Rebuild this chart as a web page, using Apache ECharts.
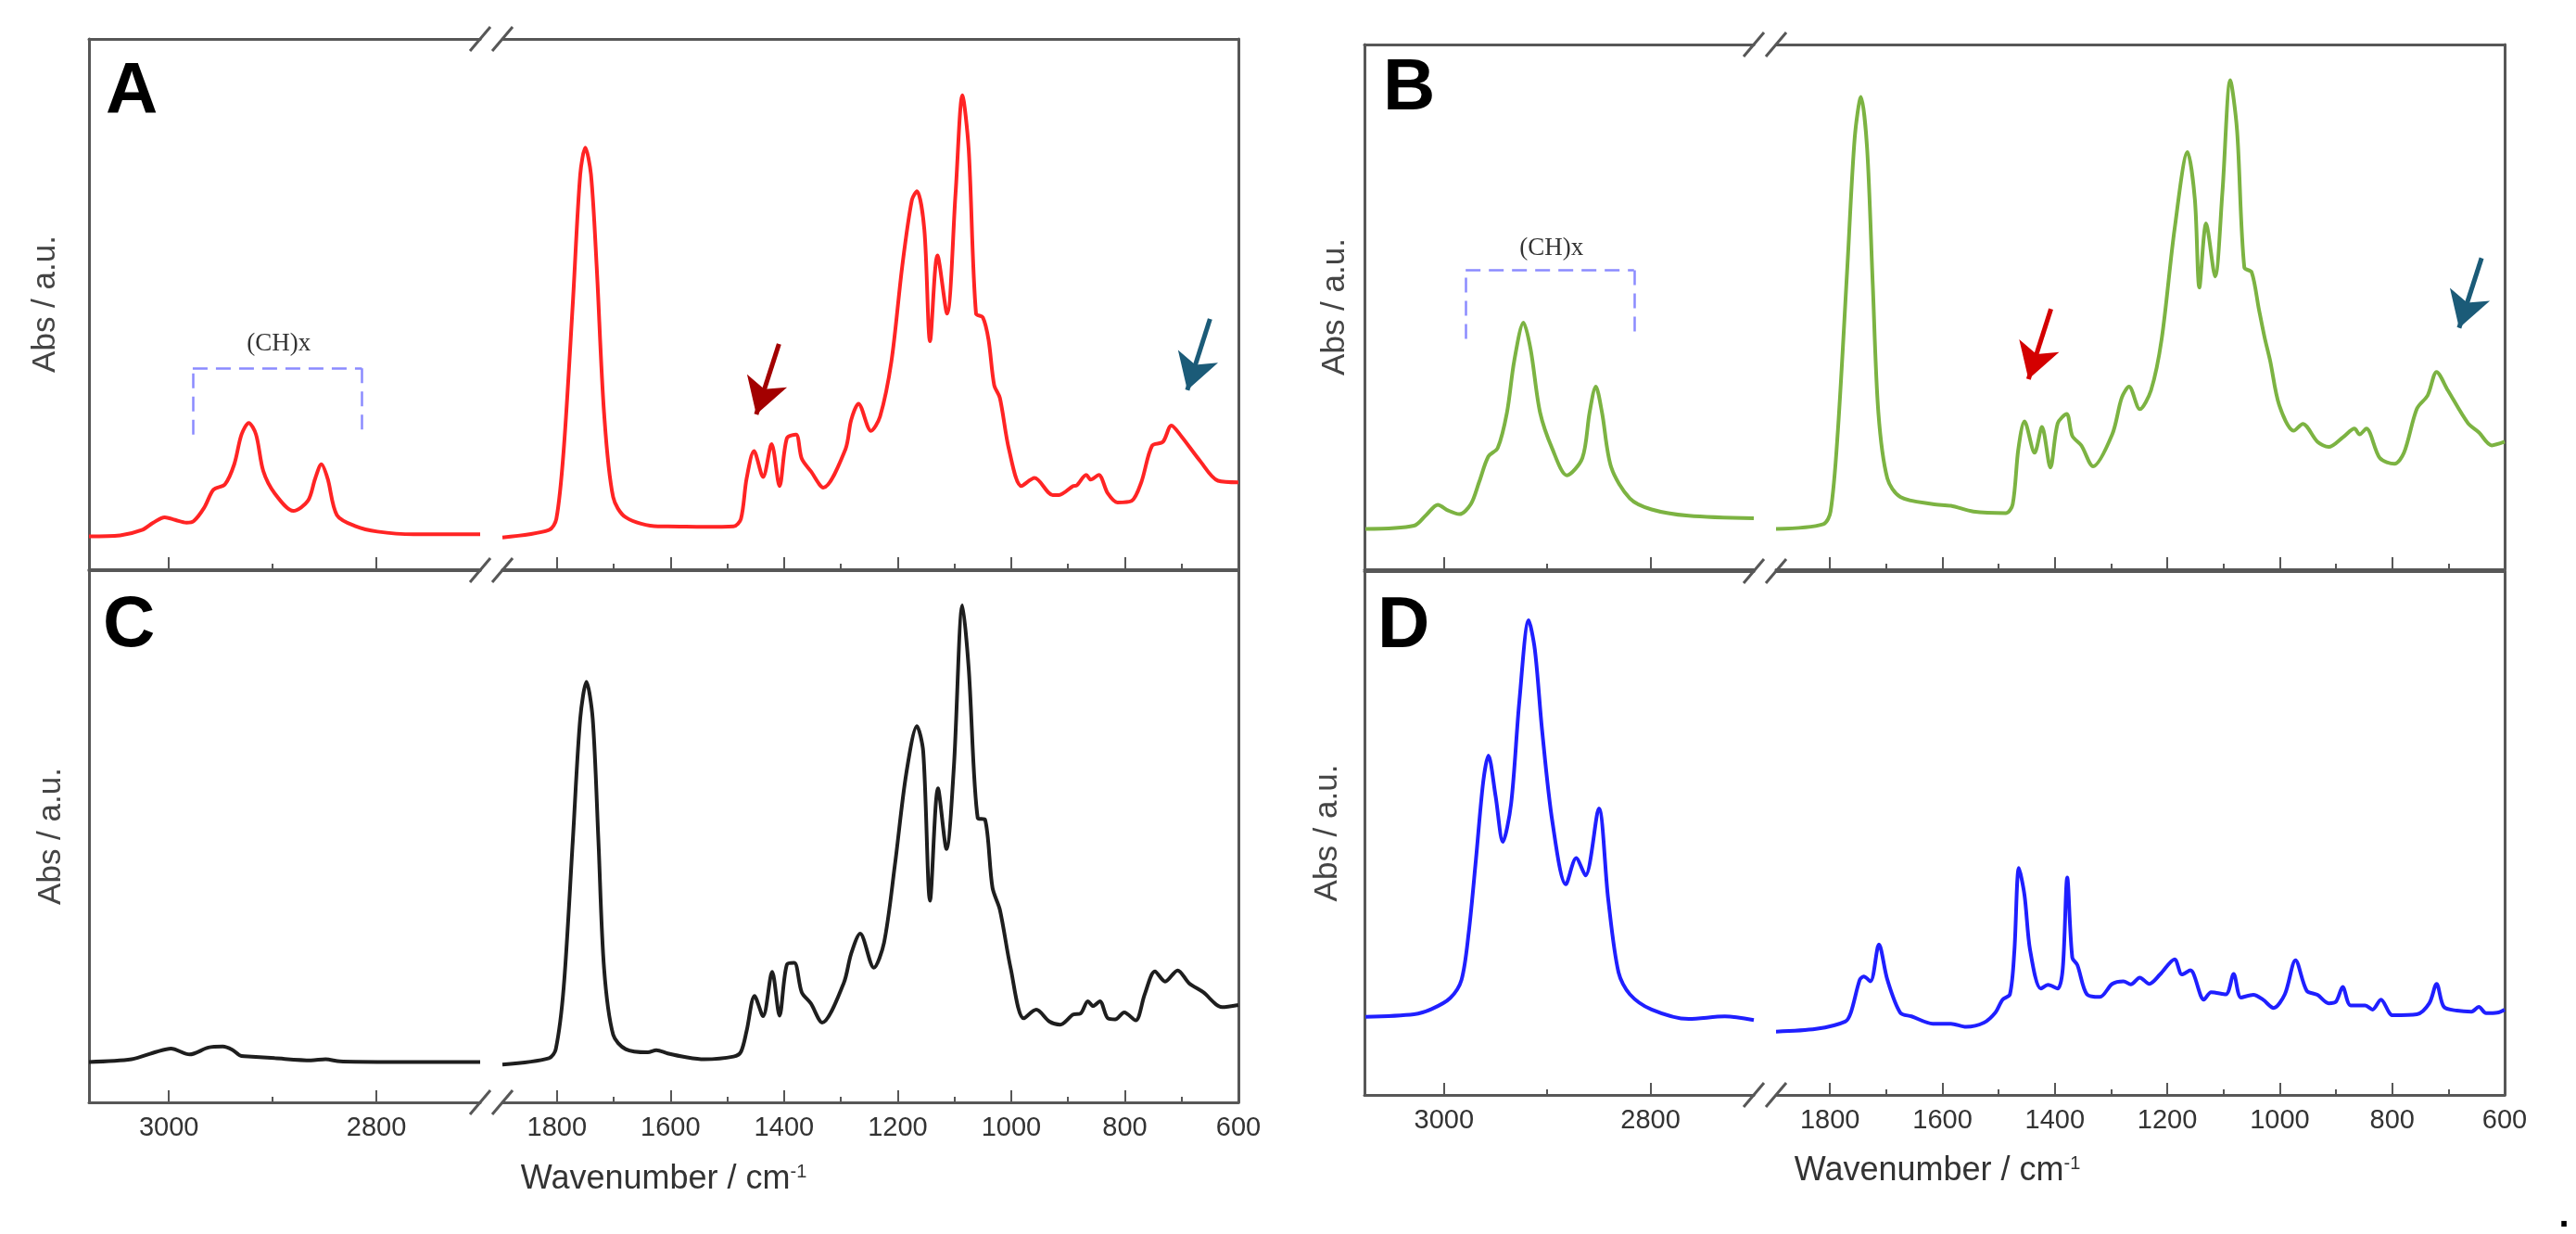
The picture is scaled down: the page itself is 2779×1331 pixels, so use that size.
<!DOCTYPE html>
<html>
<head>
<meta charset="utf-8">
<title>FTIR spectra A-D</title>
<script src="https://cdn.jsdelivr.net/npm/echarts@6.0.0/dist/echarts.min.js"></script>
<style>
  html, body { margin: 0; padding: 0; background: #fff; }
  #chart { width: 2779px; height: 1331px; }
</style>
</head>
<body>
<div id="chart"></div>
<script>
// wavenumber (cm-1) and absorbance (a.u., 0-100 of the panel height)
// "Hi" = CH stretching region left of the axis break, "Lo" = 1896-600 region
const aHiX = [3077, 3047, 3026, 3015, 3004, 2994, 2983, 2976, 2966, 2957, 2946, 2937, 2930, 2923, 2916, 2909, 2898, 2880, 2866, 2859, 2853, 2847, 2838, 2820, 2799, 2764, 2700];
const aHiY = [6.2, 6.4, 7.4, 8.8, 9.8, 9.3, 8.8, 9.1, 11.6, 15.0, 16.0, 19.8, 25.4, 27.6, 25.4, 18.5, 14.3, 11.0, 12.9, 17.1, 19.8, 17.1, 10.2, 8.1, 7.1, 6.6, 6.6];
const aLoX = [1896, 1814, 1801, 1788, 1772, 1759, 1750, 1740, 1730, 1717,
  1701, 1679, 1622, 1605, 1541, 1489, 1476, 1466, 1453, 1437,
  1422, 1408, 1395, 1379, 1369, 1353, 1331, 1292, 1282, 1269,
  1247, 1231, 1211, 1192, 1175, 1166, 1153, 1143, 1130, 1113,
  1098, 1086, 1075, 1062, 1050, 1040, 1030, 1020, 1004, 982,
  959, 927, 916, 891, 885, 868, 860, 846, 830, 813,
  788, 771, 752, 733, 718, 700, 668, 636, 600];
const aLoY = [6.0, 7.4, 9.5, 22.6, 50.2, 74.4, 79.5, 74.4, 57.1, 29.5,
  13.6, 9.8, 8.1, 8.1, 8.0, 8.1, 9.5, 17.1, 22.3, 17.4,
  23.6, 15.7, 24.7, 25.4, 20.9, 18.5, 15.4, 22.6, 28.1, 31.2,
  26.1, 28.8, 39.2, 57.1, 69.6, 71.3, 64.0, 43.0, 59.2, 48.2,
  71.0, 89.4, 79.3, 48.2, 47.5, 43.3, 34.7, 32.3, 22.6, 15.7,
  17.2, 14.0, 14.0, 15.7, 15.8, 17.8, 16.9, 17.8, 14.3, 12.6,
  12.9, 16.4, 23.3, 24.0, 27.1, 25.0, 20.5, 16.7, 16.4];

const bHiX = [3076, 3029, 3017, 3006, 2996, 2985, 2974, 2966, 2957, 2948, 2939, 2932, 2923, 2916, 2907, 2895, 2881, 2866, 2859, 2853, 2847, 2838, 2820, 2799, 2763, 2700];
const bHiY = [7.7, 8.3, 10.4, 12.3, 11.2, 10.5, 12.4, 16.6, 21.5, 23.1, 29.9, 39.7, 47.0, 41.8, 29.9, 22.9, 17.9, 21.2, 29.9, 34.8, 29.9, 19.4, 13.5, 11.4, 10.2, 9.7];
const bLoX = [1896, 1812, 1799, 1786, 1769, 1756, 1745, 1734, 1724, 1714,
  1698, 1675, 1617, 1585, 1545, 1487, 1475, 1465, 1454, 1436,
  1423, 1408, 1395, 1379, 1369, 1353, 1332, 1298, 1281, 1268,
  1249, 1229, 1210, 1187, 1164, 1151, 1143, 1131, 1115, 1102,
  1088, 1076, 1063, 1050, 1037, 1027, 1017, 1001, 975, 959,
  933, 913, 887, 867, 858, 846, 822, 796, 779, 756,
  737, 721, 701, 665, 646, 623, 600];
const bLoY = [7.7, 8.6, 11.0, 26.4, 57.9, 82.3, 90.0, 80.2, 54.4, 29.9,
  17.3, 13.8, 12.4, 12.1, 11.0, 10.7, 12.4, 22.9, 28.2, 22.2,
  27.1, 19.4, 27.8, 29.6, 25.4, 23.6, 19.6, 25.7, 32.7, 34.8,
  30.5, 34.1, 43.9, 64.9, 79.5, 70.5, 53.7, 65.9, 55.8, 71.9,
  93.2, 83.7, 57.5, 56.6, 49.5, 44.2, 39.7, 31.3, 26.4, 27.7,
  24.3, 23.3, 25.2, 26.8, 25.7, 26.8, 21.2, 20.1, 22.2, 30.6,
  33.1, 37.6, 34.1, 27.8, 26.1, 23.6, 24.3];

const cHiX = [3077, 3036, 3012, 2998, 2980, 2962, 2948, 2939, 2930, 2920, 2898, 2863, 2849, 2835, 2799, 2700];
const cHiY = [7.6, 8.1, 9.5, 10.1, 9.0, 10.3, 10.5, 9.9, 8.7, 8.6, 8.3, 7.9, 8.1, 7.7, 7.6, 7.6];
const cLoX = [1896, 1814, 1802, 1788, 1772, 1759, 1748, 1737, 1727, 1717,
  1701, 1679, 1640, 1625, 1605, 1573, 1541, 1489, 1476, 1466,
  1452, 1437, 1421, 1408, 1395, 1382, 1369, 1353, 1333, 1295,
  1282, 1266, 1242, 1224, 1205, 1185, 1166, 1155, 1143, 1129,
  1114, 1101, 1086, 1075, 1059, 1046, 1033, 1020, 1001, 978,
  956, 933, 914, 891, 878, 865, 856, 844, 830, 817,
  801, 781, 765, 747, 729, 707, 687, 662, 629, 600];
const cLoY = [7.1, 8.3, 10.0, 21.7, 49.3, 72.1, 79.0, 72.1, 49.3, 25.2,
  12.7, 10.0, 9.4, 9.8, 9.2, 8.5, 8.1, 8.6, 9.5, 13.4,
  20.0, 16.2, 24.5, 16.3, 25.9, 26.2, 20.7, 18.6, 15.0, 22.4,
  27.9, 31.7, 25.3, 30.0, 44.5, 61.7, 70.7, 65.9, 37.9, 59.0,
  47.6, 63.1, 93.4, 81.7, 53.4, 53.1, 40.3, 36.2, 25.2, 15.8,
  17.4, 15.2, 14.6, 16.5, 16.7, 19.0, 18.1, 19.0, 15.8, 15.6,
  16.9, 15.4, 20.3, 24.6, 22.7, 24.8, 22.4, 20.7, 17.9, 18.3];

const dHiX = [3076, 3029, 3012, 2994, 2983, 2976, 2969, 2962, 2957, 2950, 2943, 2935, 2927, 2918, 2912, 2905, 2895, 2882, 2872, 2863, 2850, 2841, 2831, 2820, 2799, 2763, 2728, 2700];
const dHiY = [14.9, 15.4, 16.4, 18.5, 22.0, 31.1, 45.1, 59.8, 64.8, 57.0, 48.3, 55.6, 75.2, 90.6, 85.0, 69.6, 52.1, 40.2, 45.2, 41.9, 54.7, 37.4, 23.4, 19.2, 16.3, 14.5, 15.0, 14.3];
const dLoX = [1896, 1825, 1773, 1763, 1747, 1740, 1728, 1713, 1698, 1675,
  1655, 1617, 1585, 1558, 1526, 1506, 1493, 1480, 1472, 1464,
  1454, 1444, 1425, 1412, 1395, 1386, 1378, 1369, 1360, 1343,
  1320, 1298, 1278, 1265, 1249, 1232, 1213, 1187, 1174, 1159,
  1135, 1122, 1096, 1082, 1069, 1047, 1030, 1011, 991, 972,
  952, 933, 913, 900, 888, 874, 848, 835, 820, 799,
  756, 734, 721, 708, 685, 659, 646, 633, 613, 600];
const dLoY = [12.1, 12.6, 14.0, 15.7, 22.0, 22.6, 21.7, 28.7, 22.0, 15.7,
  15.0, 13.6, 13.6, 13.0, 13.8, 15.7, 18.2, 19.2, 27.6, 43.3,
  38.1, 27.6, 20.3, 21.0, 20.3, 24.1, 41.5, 26.2, 24.8, 19.2,
  18.7, 21.2, 21.7, 21.1, 22.4, 21.2, 23.0, 25.9, 23.0, 23.8,
  18.2, 19.6, 19.2, 23.1, 18.6, 19.1, 18.2, 16.6, 19.2, 25.7,
  19.9, 19.1, 17.5, 17.8, 20.6, 17.1, 17.1, 16.3, 18.2, 15.2,
  15.4, 17.5, 21.2, 16.8, 16.1, 15.9, 16.8, 15.6, 15.7, 16.3];

// tick labels
const hiMajor = [2800, 3000];
const hiMinor = [2900];
const loMajor = [600, 800, 1000, 1200, 1400, 1600, 1800];
const loMinor = [700, 900, 1100, 1300, 1500, 1700];

// annotations (data coordinates): (CH)x brackets and arrows in A and B
const bracketA = [[2977, 25.4], [2977, 37.9], [2814, 37.9], [2814, 25.4]];
const bracketB = [[2979, 43.9], [2979, 57.0], [2816, 57.0], [2816, 45.3]];
const chLabelA = [2894, 42.5];
const chLabelB = [2896, 61.2];
const arrowsA = [
  { from: [1409, 42.5], to: [1449, 29.2], color: '#a30000' },
  { from: [650, 47.2], to: [690, 33.8], color: '#1b5b78' }
];
const arrowsB = [
  { from: [1407, 49.6], to: [1447, 36.2], color: '#d40000' },
  { from: [641, 59.3], to: [681, 46.0], color: '#1b5b78' }
];

const FRAME = '#575757';
const FONT = '"Liberation Sans", Arial, sans-serif';
const SERIF = '"Liberation Serif", "Times New Roman", serif';

const pts = (xs, ys) => xs.map((x, i) => [x, ys[i]]);

const panels = [
  { letter: 'A', hi: pts(aHiX, aHiY), lo: pts(aLoX, aLoY), color: '#ff2424',
    x0: 96, x1: 518, x2: 542, x3: 1336, top: 42, bottom: 614, labels: false, nameGap: 29,
    bracket: bracketA, ch: chLabelA, arrows: arrowsA },
  { letter: 'C', hi: pts(cHiX, cHiY), lo: pts(cLoX, cLoY), color: '#1e1e1e',
    x0: 96, x1: 518, x2: 542, x3: 1336, top: 615, bottom: 1189, labels: true, nameGap: 23 },
  { letter: 'B', hi: pts(bHiX, bHiY), lo: pts(bLoX, bLoY), color: '#7cb342',
    x0: 1472, x1: 1892, x2: 1916, x3: 2702, top: 48, bottom: 614, labels: false, nameGap: 14,
    bracket: bracketB, ch: chLabelB, arrows: arrowsB },
  { letter: 'D', hi: pts(dHiX, dHiY), lo: pts(dLoX, dLoY), color: '#1f1fff',
    x0: 1472, x1: 1892, x2: 1916, x3: 2702, top: 616, bottom: 1181, labels: true, nameGap: 22 }
];

const grid = [], xAxis = [], yAxis = [], series = [];

panels.forEach(function (p) {
  ['hi', 'lo'].forEach(function (part) {
    const isHi = part === 'hi';
    const left = isHi ? p.x0 : p.x2;
    const right = isHi ? p.x1 : p.x3;
    const g = grid.length;
    grid.push({
      left: left, top: p.top, width: right - left, height: p.bottom - p.top,
      containLabel: false, outerBoundsMode: 'none'
    });
    const range = isHi ? { min: 2700, max: 3077 } : { min: 600, max: 1896 };
    const major = isHi ? hiMajor : loMajor;
    const minor = isHi ? hiMinor : loMinor;
    const xi = xAxis.length;
    // bottom axis with long ticks and labels
    xAxis.push({
      gridIndex: g, type: 'value', min: range.min, max: range.max, inverse: true, position: 'bottom',
      axisLine: { show: true, onZero: false, lineStyle: { color: FRAME, width: 3 } },
      axisTick: { show: true, inside: true, length: 13, customValues: major, lineStyle: { color: FRAME, width: 2 } },
      axisLabel: {
        show: p.labels, customValues: major, margin: 13, fontSize: 29, fontFamily: FONT, color: '#333',
        formatter: function (v) { return String(v); }
      },
      splitLine: { show: false }
    });
    // short ticks
    xAxis.push({
      gridIndex: g, type: 'value', min: range.min, max: range.max, inverse: true, position: 'bottom',
      axisLine: { show: false },
      axisTick: { show: true, inside: true, length: 6, customValues: minor, lineStyle: { color: FRAME, width: 2 } },
      axisLabel: { show: false },
      splitLine: { show: false }
    });
    // top frame
    xAxis.push({
      gridIndex: g, type: 'value', min: range.min, max: range.max, inverse: true, position: 'top',
      axisLine: { show: true, onZero: false, lineStyle: { color: FRAME, width: 3 } },
      axisTick: { show: false }, axisLabel: { show: false }, splitLine: { show: false }
    });
    const yi = yAxis.length;
    yAxis.push({
      gridIndex: g, type: 'value', min: 0, max: 100, position: isHi ? 'left' : 'right',
      axisLine: { show: true, onZero: false, lineStyle: { color: FRAME, width: 3 } },
      axisTick: { show: false }, axisLabel: { show: false }, splitLine: { show: false },
      name: isHi ? 'Abs / a.u.' : '',
      nameLocation: 'middle', nameRotate: 90, nameGap: p.nameGap,
      nameTextStyle: { fontSize: 35, fontFamily: FONT, color: '#444' }
    });

    const s = {
      type: 'line', name: p.letter + '-' + part, xAxisIndex: xi, yAxisIndex: yi,
      data: isHi ? p.hi : p.lo,
      showSymbol: false, smooth: 0.3, silent: true,
      lineStyle: { color: p.color, width: 4 }, itemStyle: { color: p.color }
    };
    if (isHi && p.bracket) {
      const segs = [];
      for (let i = 0; i < p.bracket.length - 1; i++) {
        segs.push([{ coord: p.bracket[i] }, { coord: p.bracket[i + 1] }]);
      }
      s.markLine = {
        silent: true, symbol: ['none', 'none'], label: { show: false }, emphasis: { disabled: true },
        lineStyle: { color: '#8b8bff', width: 2.5, type: [16, 9] },
        data: segs
      };
      s.markPoint = {
        silent: true, symbol: 'rect', symbolSize: 1, itemStyle: { color: 'rgba(0,0,0,0)' },
        label: { show: true, position: 'inside', formatter: '(CH)x', fontFamily: SERIF, fontSize: 27, color: '#333' },
        data: [{ coord: p.ch }]
      };
    }
    if (!isHi && p.arrows) {
      s.markLine = {
        silent: true, symbol: ['none', 'arrow'], symbolSize: [34, 38], label: { show: false },
        emphasis: { disabled: true },
        data: p.arrows.map(function (a) {
          return [
            { coord: a.from, lineStyle: { color: a.color, width: 5, type: 'solid' }, itemStyle: { color: a.color } },
            { coord: a.to }
          ];
        })
      };
    }
    series.push(s);
  });
});

// axis-break marks, panel letters, axis titles
const graphic = [];
[[518, 542, [42, 615, 1189]], [1892, 1916, [48, 616, 1181]]].forEach(function (col) {
  col[2].forEach(function (y) {
    [col[0], col[1]].forEach(function (x) {
      graphic.push({
        type: 'line', silent: true,
        shape: { x1: x - 11, y1: y + 13, x2: x + 11, y2: y - 13 },
        style: { stroke: FRAME, lineWidth: 3 }
      });
    });
  });
});
[['A', 114, 100], ['C', 111, 675], ['B', 1492, 96], ['D', 1486, 676]].forEach(function (l) {
  graphic.push({
    type: 'text', x: l[1], y: l[2], silent: true,
    style: {
      text: l[0], fontSize: 78, fontWeight: 'bold', fontFamily: FONT, fill: '#000',
      align: 'left', verticalAlign: 'middle', textAlign: 'left', textVerticalAlign: 'middle'
    }
  });
});
[[716, 1272], [2090, 1263]].forEach(function (t) {
  graphic.push({
    type: 'text', x: t[0], y: t[1], silent: true,
    style: {
      text: 'Wavenumber / cm{sup|-1}', fontSize: 36, fontFamily: FONT, fill: '#333',
      align: 'center', verticalAlign: 'middle', textAlign: 'center', textVerticalAlign: 'middle',
      rich: { sup: { fontSize: 20, fontFamily: FONT, fill: '#333', verticalAlign: 'top' } }
    }
  });
});
graphic.push({
  type: 'text', x: 2766, y: 1312, silent: true,
  style: { text: '.', fontSize: 40, fontWeight: 'bold', fontFamily: FONT, fill: '#000', align: 'center', verticalAlign: 'middle' }
});

const chart = echarts.init(document.getElementById('chart'), null, { renderer: 'canvas' });
chart.setOption({
  backgroundColor: '#fff',
  animation: false,
  grid: grid,
  xAxis: xAxis,
  yAxis: yAxis,
  series: series,
  graphic: graphic
});
</script>
</body>
</html>
